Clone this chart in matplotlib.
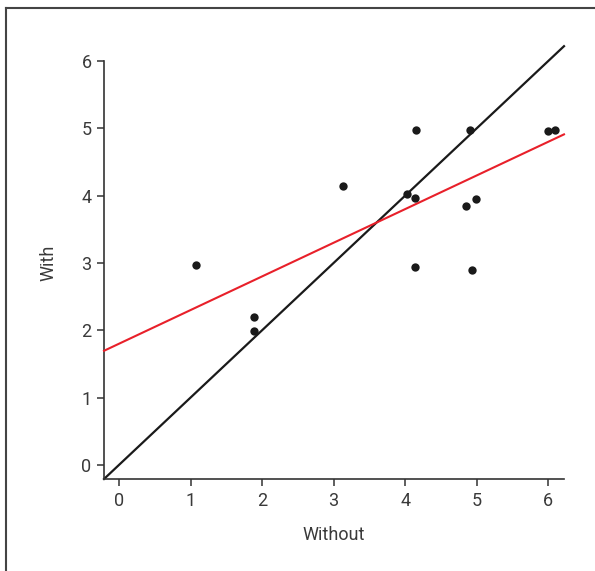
import matplotlib
matplotlib.use("Agg")
import matplotlib.pyplot as plt
import numpy as np
from matplotlib.lines import Line2D

plt.rcParams['font.family'] = ['Roboto', 'DejaVu Sans']

without_vals = [1.08, 1.89, 1.89, 3.13, 4.03, 4.14, 4.15, 4.14, 4.90, 4.85, 4.99, 4.94, 6.00, 6.10]
with_vals = [2.97, 2.20, 1.99, 4.14, 4.02, 3.97, 4.98, 2.94, 4.98, 3.85, 3.95, 2.90, 4.96, 4.98]
red_intercept = 1.80
red_slope = 0.50
ticks = [0, 1, 2, 3, 4, 5, 6]

xmin, xmax = -0.21, 6.22
ymin, ymax = -0.21, 6.22

fig = plt.figure(figsize=(5.95, 5.71), dpi=100)
ax = fig.add_axes([0.1748, 0.1611, 0.9479 - 0.1748, 0.9191 - 0.1611])
ax.set_xlim(xmin, xmax)
ax.set_ylim(ymin, ymax)

xx = np.array([xmin, xmax])
ax.plot(xx, xx, color='#1a1a1a', lw=1.6, clip_on=False, zorder=2)
ax.plot(xx, red_intercept + red_slope * xx, color='#e8202a', lw=1.5, clip_on=False, zorder=3)
ax.scatter(without_vals, with_vals, s=36, color='#1a1a1a', zorder=4, linewidths=0, clip_on=False)

for s in ['top', 'right']:
    ax.spines[s].set_visible(False)
for s in ['left', 'bottom']:
    ax.spines[s].set_color('#333333')
    ax.spines[s].set_linewidth(1.2)
ax.spines['left'].set_bounds(ymin, 6)

ax.set_xticks(ticks)
ax.set_yticks(ticks)
ax.tick_params(direction='out', length=5, width=1.1, color='#333333', labelsize=13,
               labelcolor='#3a3a3a', pad=4)
ax.set_xlabel('Without', fontsize=13, color='#3a3a3a', labelpad=12)
ax.set_ylabel('With', fontsize=13, color='#3a3a3a', labelpad=17)

# figure frame (top and left edges visible)
fig.add_artist(Line2D([5.5 / 595, 5.5 / 595], [0, 1 - 7.5 / 571], transform=fig.transFigure,
                      color='#444444', lw=1.5))
fig.add_artist(Line2D([5.5 / 595, 1], [1 - 7.5 / 571, 1 - 7.5 / 571], transform=fig.transFigure,
                      color='#444444', lw=1.5))

fig.savefig('out.png', dpi=100)
